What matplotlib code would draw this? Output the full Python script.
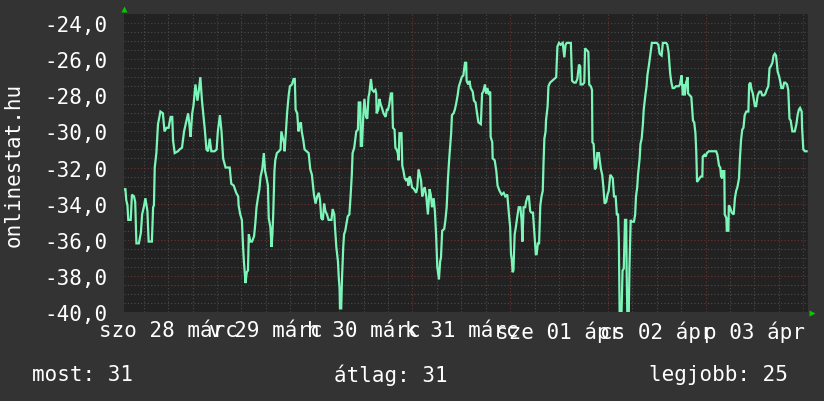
import matplotlib
matplotlib.use('Agg')
import matplotlib.pyplot as plt

# hours since Saturday 28 March 00:00, and the reading at that time
hours = [1.2, 1.5, 1.7, 2.0, 2.2, 2.8, 3.1, 3.6, 3.9, 4.2, 4.8, 5.3, 5.6, 6.1, 6.4, 6.9, 7.2, 8.0, 8.3, 8.5,
         8.7, 9.1, 9.5, 10.1, 10.7, 11.1, 11.6, 12.1, 12.6, 13.0, 13.2, 13.6, 14.4, 14.8, 15.4, 15.9, 16.5,
         16.9, 17.2, 17.5, 17.9, 18.2, 18.7, 19.2, 19.5, 19.9, 20.3, 20.6, 21.0, 21.4, 21.8, 22.2, 22.6,
         23.4, 23.9, 24.2, 24.7, 25.1, 25.5, 26.1, 27.1, 27.5,
         28.1, 28.7, 29.2, 29.3, 29.7, 30.1, 30.4, 30.6, 31.0, 31.3, 31.6, 31.8, 32.2, 32.6, 33.1, 33.4,
         33.7, 34.1, 34.4, 34.7, 35.1, 35.5, 35.8, 36.1, 36.5, 36.7, 37.1, 37.4, 37.6, 37.8, 38.1, 38.3,
         38.7, 39.2, 39.6, 39.8, 40.1, 40.5, 40.6, 40.9, 41.2, 41.6, 41.9, 42.4, 42.8, 43.1, 43.3, 43.7,
         44.0, 44.3, 44.6, 44.8, 45.2, 45.5, 46.0, 46.5, 46.9, 47.3, 47.8, 48.2, 48.6, 49.0, 49.3, 49.6,
         50.0, 50.3, 50.6, 51.0, 51.4, 52.1, 52.4, 52.8, 53.0, 53.3, 53.7, 53.9, 54.1, 54.2, 54.5, 54.7,
         55.0, 55.2, 55.5,
         56.1, 56.5, 56.8, 57.1, 57.3, 57.7, 58.2, 58.6, 58.8, 59.2, 59.3, 59.6, 59.9, 60.2, 60.6, 60.9,
         61.2, 61.4, 61.8, 62.1, 62.5, 62.9, 63.1, 63.2, 63.6, 63.9, 64.2, 64.5, 64.9, 65.4, 65.7, 66.0,
         66.3, 66.7, 67.0, 67.2, 67.6, 67.8, 68.1, 68.4, 68.6, 68.8, 69.3, 69.5, 69.8, 70.1, 70.4, 70.8,
         71.0, 71.3, 71.6, 71.9, 72.4, 72.9, 73.2, 73.5, 73.8, 74.1, 74.4, 74.7, 75.0, 75.4, 75.8, 76.2,
         76.5, 76.8, 77.2, 77.5, 77.8, 78.1, 78.5, 78.8, 79.0, 79.3, 79.8, 80.1, 80.4, 80.7, 81.0, 81.3,
         81.5, 81.7, 82.1, 82.4, 82.7, 83.1, 83.4,
         83.7, 84.1, 84.5, 84.9, 85.2, 85.3, 85.7, 86.0, 86.3, 86.8, 87.1, 87.5, 87.8, 88.2, 88.8, 89.1,
         89.4, 89.8, 90.1, 90.4, 90.7, 91.1, 91.2, 91.6, 91.7, 92.2, 92.6, 92.9, 93.4, 93.9, 94.4, 94.8,
         95.3, 95.7, 96.0, 96.2, 96.4, 96.6, 96.8, 97.1, 97.4, 97.7, 98.1, 98.5, 98.8, 99.0, 99.3, 99.7,
         99.9, 100.3, 100.6, 100.9, 101.2, 101.6, 101.9, 102.3, 102.5, 102.8, 103.1, 103.4, 103.7, 104.0,
         104.2, 104.4, 104.7, 104.8, 105.2, 105.4, 105.8, 106.3, 106.8, 107.3, 107.6, 108.0, 108.4, 108.9,
         109.3, 109.6, 109.9, 110.4, 110.9, 111.2,
         111.7, 112.1, 112.5, 112.9, 113.2, 113.3, 113.8, 114.2, 114.4, 114.8, 115.2, 115.4, 115.8, 116.1,
         116.2, 116.5, 116.6, 116.8, 117.1, 117.4, 117.8, 118.0, 118.3, 118.6, 118.9, 119.2, 119.6, 119.9,
         120.2, 120.6, 120.9, 121.2, 121.5, 121.9, 122.2, 122.5, 122.7, 122.9, 123.3, 123.6, 123.9, 124.2,
         124.5, 124.6, 124.8, 125.1, 125.3, 125.6, 125.8, 126.0, 126.4, 126.7, 126.9, 127.2, 127.4, 127.8,
         128.0, 128.3, 128.6, 128.8, 129.2, 129.5, 129.7, 130.1, 130.5, 130.8, 131.4, 132.0, 132.4, 132.7,
         133.2, 133.5, 133.8, 134.3, 134.6, 134.9, 135.3, 135.6, 135.9, 136.3, 136.7, 137.1, 137.4, 137.7,
         138.1, 138.4, 138.7, 138.9, 139.2, 139.6,
         139.7, 140.1, 140.5, 140.9, 141.2, 141.5, 141.7, 141.9, 142.2, 142.5, 142.8, 143.2, 143.3, 143.7,
         144.0, 144.3, 144.8, 145.5, 146.1, 146.6, 146.9, 147.3, 147.6, 147.8, 148.1, 148.2, 148.6, 148.7,
         149.1, 149.2, 149.6, 149.7, 150.0, 150.4, 150.9, 151.2, 151.5, 151.8, 152.2, 152.4, 152.7, 153.0,
         153.3, 153.6, 154.0, 154.5, 154.7, 155.0, 155.3, 155.6, 156.1, 156.4, 156.8, 157.2, 157.6, 157.9,
         158.4, 158.7, 159.0, 159.4, 159.7, 160.0, 160.4, 160.7, 161.0, 161.3, 161.7, 162.0, 162.3, 162.6,
         163.0, 163.3, 163.6, 164.0, 164.3, 164.6, 164.9, 165.3, 165.6, 165.9, 166.3, 166.6, 166.9, 167.2,
         167.6, 167.7, 168.0, 168.4, 168.8]

values = [-33.2, -33.2, -33.8, -34.1, -34.9, -34.9, -33.5, -33.6, -33.9, -36.2, -36.2, -35.6, -34.6, -34.1,
          -33.7, -34.4, -36.1, -36.1, -34.2, -34.1, -32.0, -31.2, -29.6, -28.9, -29.0, -30.0, -29.8, -29.8,
          -29.2, -29.2, -30.5, -31.2, -31.1, -31.0, -30.9, -30.0, -29.4, -29.0, -29.6, -30.3, -29.0, -28.6,
          -27.4, -28.3, -27.8, -27.0, -28.3, -29.0, -29.9, -31.0, -31.1, -30.4, -31.1, -31.1, -31.0, -30.0,
          -29.1, -30.0, -31.5, -32.0, -32.0, -32.9,
          -33.0, -33.4, -33.6, -34.1, -34.6, -34.9, -36.4, -37.2, -38.4, -37.8, -37.7, -35.7, -36.1, -36.1,
          -35.8, -35.1, -34.2, -33.6, -33.2, -32.5, -32.1, -31.2, -32.2, -32.5, -33.0, -34.8, -35.3, -36.4,
          -35.7, -34.6, -32.2, -31.6, -31.2, -31.1, -31.0, -30.0, -30.3, -30.7, -31.1, -30.1, -29.0, -28.0,
          -27.5, -27.4, -27.1, -27.1, -28.8, -29.0, -30.0, -29.6, -29.5, -30.0, -30.5, -31.0, -31.1, -31.2,
          -32.1, -32.4, -33.5, -34.0, -33.6, -33.4, -33.8, -34.8, -34.9, -34.0, -34.4, -34.6, -34.9, -34.9,
          -34.3, -34.6, -35.4, -36.4, -37.2, -38.1, -38.7, -39.8, -39.8, -38.1, -36.4, -35.7, -35.5,
          -34.7, -34.6, -33.6, -32.4, -31.2, -30.9, -30.0, -29.9, -28.4, -28.4, -30.8, -30.8, -29.2, -28.2,
          -29.2, -29.3, -28.1, -27.9, -27.1, -27.7, -27.8, -27.7, -27.9, -29.0, -28.8, -28.2, -28.5, -28.7,
          -29.0, -29.2, -28.8, -28.8, -28.5, -27.9, -27.9, -29.8, -29.9, -30.9, -31.0, -31.2, -31.6, -30.1,
          -30.1, -31.9, -32.2, -32.6, -32.7, -32.6, -33.0, -32.5, -32.7, -33.1, -33.2, -33.4, -33.1, -32.1,
          -32.4, -32.7, -33.6, -33.3, -33.1, -33.6, -34.6, -33.2, -33.5, -34.2, -33.7, -34.4, -35.7, -37.5,
          -38.2, -37.2, -37.0, -35.5, -35.4, -34.9, -34.2, -32.7, -31.6, -30.7, -30.1, -29.1, -29.0, -28.8,
          -28.5, -28.0, -27.5,
          -27.3, -27.0, -26.9, -26.2, -26.2, -27.2, -27.4, -27.2, -27.6, -27.8, -28.3, -28.4, -28.9, -29.5,
          -29.6, -27.9, -27.8, -27.4, -27.9, -27.6, -27.9, -27.8, -30.3, -30.6, -31.5, -31.6, -32.2, -33.0,
          -33.3, -33.5, -33.4, -33.6, -33.5, -34.6, -35.3, -36.8, -37.1, -37.8, -37.7, -35.7, -35.3, -34.8,
          -34.2, -34.2, -34.9, -36.1, -34.2, -34.2, -33.9, -33.6, -33.6, -34.4, -34.5, -34.5, -35.5, -36.8,
          -36.8, -36.2, -36.2, -34.1, -33.6, -33.3, -31.7, -30.4, -30.0, -29.4, -28.6, -27.5, -27.3, -27.2,
          -27.1, -27.0, -25.3, -25.1, -25.2, -25.1, -25.9, -25.2, -25.1, -25.1, -25.1, -27.2,
          -27.3, -27.3, -27.1, -26.3, -26.4, -27.4, -27.4, -27.3, -25.4, -25.5, -25.6, -27.4, -27.5, -27.7,
          -30.6, -30.7, -31.2, -32.1, -32.0, -31.2, -31.2, -31.6, -32.1, -32.4, -33.1, -34.0, -33.9, -33.5,
          -33.3, -32.4, -32.5, -32.6, -33.6, -33.6, -34.6, -34.6, -36.1, -40.5, -40.5, -37.7, -37.6, -34.9,
          -34.9, -37.7, -40.5, -40.5, -37.5, -34.9, -35.0, -35.0, -35.0, -34.6, -33.6, -33.1, -32.4, -31.5,
          -30.7, -30.4, -29.6, -28.8, -28.0, -27.5, -26.9, -26.3, -25.6, -25.1, -25.1, -25.1, -25.2, -25.7,
          -25.8, -25.1, -25.1, -25.1, -25.2, -25.6, -26.8, -27.3, -27.6, -27.6, -27.5, -27.5, -27.5, -27.4,
          -26.9, -28.0, -27.4, -28.0, -27.3, -27.0,
          -27.9, -28.0, -28.1, -29.4, -29.5, -30.1, -31.1, -32.8, -32.7, -32.6, -32.5, -32.5, -31.4, -31.3,
          -31.4, -31.2, -31.1, -31.1, -31.1, -31.1, -31.3, -31.9, -32.0, -32.5, -32.6, -32.2, -32.2, -34.6,
          -34.8, -35.5, -35.5, -34.1, -34.2, -34.5, -34.6, -33.7, -33.3, -33.1, -32.6, -31.6, -30.5, -29.9,
          -29.8, -29.1, -28.9, -28.9, -27.4, -27.3, -27.7, -27.9, -28.6, -28.6, -28.0, -27.8, -27.8, -28.0,
          -28.0, -27.9, -27.7, -27.5, -26.5, -26.4, -26.2, -25.8, -25.7, -25.8, -26.7, -26.9, -27.2, -27.6,
          -27.6, -27.3, -27.3, -27.4, -27.7, -29.3, -29.4, -30.0, -30.0, -30.0, -29.6, -29.1, -28.8, -28.7,
          -28.9, -29.8, -31.0, -31.1, -31.1]

day_labels = ['szo 28 márc', 'v 29 márc', 'h 30 márc', 'k 31 márc', 'sze 01 ápr', 'cs 02 ápr', 'p 03 ápr']
y_ticks = [-40, -38, -36, -34, -32, -30, -28, -26, -24]
footer = [('most: 31', 32), ('átlag: 31', 334), ('legjobb: 25', 649)]

W, H = 824, 402
bg = '#333333'
plot_bg = '#222222'
txt = '#ffffff'
mono = 'DejaVu Sans Mono'
fs = 15

fig = plt.figure(figsize=(W / 100, H / 100), dpi=100, facecolor=bg)
ax = fig.add_axes([124 / W, (H - 313) / H, 684 / W, 298 / H], facecolor=plot_bg)

x0, x1 = 1.15, 169.15
ax.set_xlim(x0, x1)
ax.set_ylim(-40, -23.5)

# grid: grey dotted every 6 h / 0.5, red dotted every day / 2
for h in range(6, 169, 6):
    if h % 24:
        ax.axvline(h, color='#4c4c4c', lw=0.8, ls=(0, (1, 2)), zorder=1)
for h in range(24, 169, 24):
    ax.axvline(h, color='#703232', lw=0.8, ls=(0, (1, 2)), zorder=1)
for k in range(0, 33):
    v = -40 + 0.5 * k
    if k % 4:
        ax.axhline(v, color='#4c4c4c', lw=0.8, ls=(0, (1, 2)), zorder=1)
for v in y_ticks:
    ax.axhline(v, color='#703232', lw=0.8, ls=(0, (1, 2)), zorder=1)

ax.plot(hours, values, color='#7cf5b8', lw=1.6, zorder=3, solid_joinstyle='miter')

for s in ax.spines.values():
    s.set_visible(False)

ax.set_yticks(y_ticks)
ax.set_yticklabels([f'{v},0' for v in y_ticks])
ax.set_xticks([12 + 24 * i for i in range(7)])
ax.set_xticklabels(day_labels)
ax.tick_params(axis='y', length=0, pad=12, labelcolor=txt, labelsize=fs)
ax.tick_params(axis='x', length=0, pad=6, labelcolor=txt, labelsize=fs)
for lab in ax.get_xticklabels() + ax.get_yticklabels():
    lab.set_family(mono)

# rrdtool-style axis arrows
ax.plot([0], [1.018], marker='^', color='#00cc00', ms=5, mec='none', transform=ax.transAxes, clip_on=False)
ax.plot([1.006], [-0.005], marker='>', color='#00cc00', ms=5, mec='none', transform=ax.transAxes, clip_on=False)

fig.text(14 / W, 1 - 165 / H, 'onlinestat.hu', rotation=90, ha='center', va='center',
         color=txt, family=mono, fontsize=fs)
for s, px in footer:
    fig.text(px / W, 1 - 375 / H, s, ha='left', va='center', color=txt, family=mono, fontsize=fs)

fig.savefig('out.png', dpi=100, facecolor=bg)
